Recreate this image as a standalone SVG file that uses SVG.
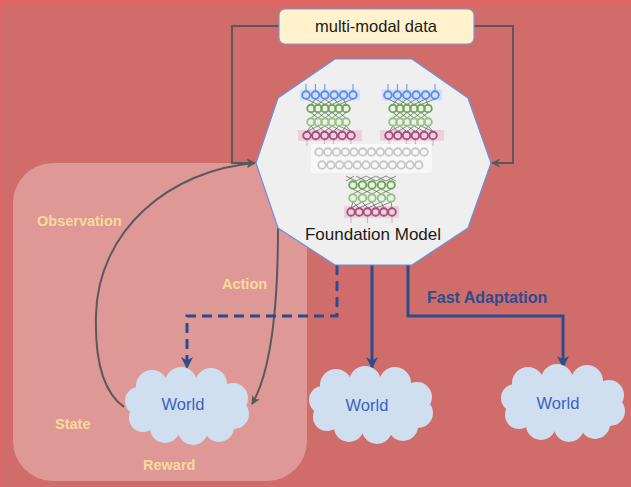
<svg xmlns="http://www.w3.org/2000/svg" xmlns:xlink="http://www.w3.org/1999/xlink" width="631" height="487" viewBox="0 0 631 487">
  <style>
    .lbl { font-family: "Liberation Sans", Arial, sans-serif; font-weight: bold; font-size: 14.5px; fill: #FAD99B; }
    .world { font-family: "Liberation Sans", Arial, sans-serif; font-size: 16.5px; fill: #3D5FC4; text-anchor: middle; }
    .title { font-family: "Liberation Sans", Arial, sans-serif; font-size: 16.5px; fill: #1a1a1a; text-anchor: middle; }
    .gray-link { fill: none; stroke: #595959; stroke-width: 2; }
    .blue-link { fill: none; stroke: #2D4C8E; stroke-width: 3; }
    .cloud { fill: #CFDFF0; }
    .nb { fill: none; stroke: #5B8DEF; stroke-width: 1.9; }
    .ng { fill: none; stroke: #6AA84F; stroke-width: 1.9; }
    .nl { fill: none; stroke: #93C47D; stroke-width: 1.9; }
    .np { fill: none; stroke: #A64D79; stroke-width: 1.9; }
    .ny { fill: none; stroke: #C8C8C8; stroke-width: 1.9; }
    .wire { fill: none; stroke: #444; stroke-width: 0.6; }
    .tick-b { stroke: #5B8DEF; stroke-width: 1; }
    .tick-p { stroke: #D5A6BD; stroke-width: 1; }
  </style>
  <defs>
    <marker id="arrow-blue" viewBox="0 0 12 12" markerWidth="12" markerHeight="12" refX="11" refY="6" orient="auto" markerUnits="userSpaceOnUse">
      <path d="M0,0 L12,6 L0,12 L3.5,6 z" fill="#2D4C8E"/>
    </marker>
    <marker id="arrow-gray" viewBox="0 0 10 10" markerWidth="9" markerHeight="9" refX="9" refY="5" orient="auto" markerUnits="userSpaceOnUse">
      <path d="M0,0 L10,5 L0,10 L3,5 z" fill="#595959"/>
    </marker>
    <!-- cloud silhouette built from overlapping blobs, centred on 0,0 -->
    <g id="cloud-shape" class="cloud">
      <ellipse cx="0" cy="0" rx="52" ry="28"/>
      <circle cx="-35" cy="-20" r="16"/>
      <circle cx="-6" cy="-23" r="16"/>
      <circle cx="24" cy="-22" r="16"/>
      <circle cx="46" cy="-8" r="15"/>
      <circle cx="47" cy="8" r="15"/>
      <circle cx="32" cy="21" r="15"/>
      <circle cx="6" cy="24" r="15"/>
      <circle cx="-22" cy="22" r="15"/>
      <circle cx="-44" cy="12" r="14"/>
      <circle cx="-48" cy="-5" r="14"/>
    </g>
    <!-- encoder-style stack: blue input row, two green hidden rows, purple output row -->
    <g id="net-stack">
      <rect x="-6" y="-5.5" width="60" height="11" rx="1" fill="#C9DAF8" opacity="0.7"/>
      <rect x="-8" y="35" width="64" height="11" rx="1" fill="#EAD1DC"/>
      <line class="tick-b" x1="0" y1="-11" x2="0" y2="-4"/>
      <line class="tick-b" x1="9.4" y1="-11" x2="9.4" y2="-4"/>
      <line class="tick-b" x1="18.8" y1="-11" x2="18.8" y2="-4"/>
      <line class="tick-b" x1="47" y1="-11" x2="47" y2="-4"/>
      <line class="tick-p" x1="1" y1="45" x2="1" y2="51"/>
      <line class="tick-p" x1="18.6" y1="45" x2="18.6" y2="51"/>
      <line class="tick-p" x1="27.4" y1="45" x2="27.4" y2="51"/>
      <line class="tick-p" x1="45" y1="45" x2="45" y2="51"/>
      <path class="wire" d="M0,4 L12,9.5 M9.4,4 L5,9.5 M9.4,4 L19,9.5 M18.8,4 L12,9.5 M18.8,4 L26,9.5 M28.2,4 L19,9.5 M28.2,4 L33,9.5 M37.6,4 L26,9.5 M37.6,4 L40,9.5 M47,4 L33,9.5
                            M5,17.5 L12,23 M12,17.5 L5,23 M12,17.5 L19,23 M19,17.5 L12,23 M19,17.5 L26,23 M26,17.5 L19,23 M26,17.5 L33,23 M33,17.5 L26,23 M33,17.5 L40,23 M40,17.5 L33,23
                            M5,31 L1,36.5 M5,31 L9.8,36.5 M12,31 L1,36.5 M12,31 L18.6,36.5 M19,31 L9.8,36.5 M19,31 L27.4,36.5 M26,31 L18.6,36.5 M26,31 L36.2,36.5 M33,31 L27.4,36.5 M33,31 L45,36.5 M40,31 L36.2,36.5 M40,31 L45,36.5"/>
      <g class="nb">
        <circle cx="0" cy="0" r="3.8"/><circle cx="9.4" cy="0" r="3.8"/><circle cx="18.8" cy="0" r="3.8"/>
        <circle cx="28.2" cy="0" r="3.8"/><circle cx="37.6" cy="0" r="3.8"/><circle cx="47" cy="0" r="3.8"/>
      </g>
      <g class="ng">
        <circle cx="5" cy="13.5" r="3.8"/><circle cx="12" cy="13.5" r="3.8"/><circle cx="19" cy="13.5" r="3.8"/>
        <circle cx="26" cy="13.5" r="3.8"/><circle cx="33" cy="13.5" r="3.8"/><circle cx="40" cy="13.5" r="3.8"/>
      </g>
      <g class="nl">
        <circle cx="5" cy="27" r="3.8"/><circle cx="12" cy="27" r="3.8"/><circle cx="19" cy="27" r="3.8"/>
        <circle cx="26" cy="27" r="3.8"/><circle cx="33" cy="27" r="3.8"/><circle cx="40" cy="27" r="3.8"/>
      </g>
      <g class="np">
        <circle cx="1" cy="40.5" r="3.8"/><circle cx="9.8" cy="40.5" r="3.8"/><circle cx="18.6" cy="40.5" r="3.8"/>
        <circle cx="27.4" cy="40.5" r="3.8"/><circle cx="36.2" cy="40.5" r="3.8"/><circle cx="45" cy="40.5" r="3.8"/>
      </g>
    </g>
  </defs>

  <!-- background -->
  <rect x="0" y="0" width="631" height="487" fill="#E06666"/>
  <rect x="2" y="6" width="629" height="481" fill="#D06D6A"/>

  <!-- interaction loop panel -->
  <g id="loop-panel">
    <rect x="13" y="163" width="294" height="318" rx="40" ry="40" fill="#FFFFFF" fill-opacity="0.3"/>
  </g>

  <!-- connectors -->
  <g id="connectors">
    <path class="gray-link" d="M279,26 H232 V163 H255" marker-end="url(#arrow-gray)"/>
    <path class="gray-link" d="M474,26 H513 V163 H492" marker-end="url(#arrow-gray)"/>
    <path class="gray-link" d="M124,407 C100,390 95,350 96,315 C98,230 170,170 255,163" marker-end="url(#arrow-gray)"/>
    <path class="gray-link" d="M278,228 C278,300 272,370 252,404" marker-end="url(#arrow-gray)"/>
    <path class="blue-link" d="M337,265 V316 H187 V368" stroke-dasharray="10 6" marker-end="url(#arrow-blue)"/>
    <path class="blue-link" d="M372,265 V368" marker-end="url(#arrow-blue)"/>
    <path class="blue-link" d="M408,265 V316 H563 V367" marker-end="url(#arrow-blue)"/>
  </g>

  <!-- data source -->
  <g id="data-node">
    <rect x="279" y="9" width="195" height="35" rx="6" ry="6" fill="#FFF2CC" stroke="#7E96D6" stroke-width="1.2"/>
    <text class="title" x="376" y="32">multi-modal data</text>
  </g>

  <!-- foundation model -->
  <g id="foundation-model">
    <polygon points="335,59 412,59 468,98 491,163 468,228 412,265 335,265 278,228 256,163 278,98" fill="#EFEFEF" stroke="#6D8FDC" stroke-width="1.2"/>
    <use xlink:href="#net-stack" href="#net-stack" transform="translate(306,95)"/>
    <use xlink:href="#net-stack" href="#net-stack" transform="translate(388,95)"/>
    <!-- shared latent rows -->
    <rect x="311" y="144" width="121" height="29" rx="3" fill="#F8F8F8"/>
    <g class="ny">
      <circle cx="319" cy="152" r="3.8"/><circle cx="327.75" cy="152" r="3.8"/><circle cx="336.5" cy="152" r="3.8"/>
      <circle cx="345.25" cy="152" r="3.8"/><circle cx="354" cy="152" r="3.8"/><circle cx="362.75" cy="152" r="3.8"/>
      <circle cx="371.5" cy="152" r="3.8"/><circle cx="380.25" cy="152" r="3.8"/><circle cx="389" cy="152" r="3.8"/>
      <circle cx="397.75" cy="152" r="3.8"/><circle cx="406.5" cy="152" r="3.8"/><circle cx="415.25" cy="152" r="3.8"/>
      <circle cx="424" cy="152" r="3.8"/>
      <circle cx="322" cy="165" r="3.8"/><circle cx="330.8" cy="165" r="3.8"/><circle cx="339.6" cy="165" r="3.8"/>
      <circle cx="348.4" cy="165" r="3.8"/><circle cx="357.2" cy="165" r="3.8"/><circle cx="366" cy="165" r="3.8"/>
      <circle cx="374.8" cy="165" r="3.8"/><circle cx="383.6" cy="165" r="3.8"/><circle cx="392.4" cy="165" r="3.8"/>
      <circle cx="401.2" cy="165" r="3.8"/><circle cx="410" cy="165" r="3.8"/><circle cx="418.8" cy="165" r="3.8"/>
    </g>
    <!-- decoder stack -->
    <rect x="344" y="206" width="55" height="12" rx="1" fill="#EAD1DC"/>
    <path class="wire" d="M346,176 L356,181 M354,176 L346,181 M356,176 L366,181 M366,176 L356,181 M366,176 L376,181 M376,176 L366,181 M376,176 L386,181 M386,176 L376,181 M386,176 L396,181 M396,176 L386,181
                          M353,189 L362,194 M362,189 L353,194 M362,189 L372,194 M372,189 L362,194 M372,189 L381,194 M381,189 L372,194 M381,189 L391,194 M391,189 L381,194
                          M353,202 L351,208 M353,202 L359,208 M362,202 L351,208 M362,202 L368,208 M372,202 L359,208 M372,202 L376,208 M381,202 L368,208 M381,202 L384,208 M391,202 L376,208 M391,202 L392,208"/>
    <g class="ng">
      <circle cx="353" cy="185" r="3.8"/><circle cx="362.5" cy="185" r="3.8"/><circle cx="372" cy="185" r="3.8"/>
      <circle cx="381.5" cy="185" r="3.8"/><circle cx="391" cy="185" r="3.8"/>
    </g>
    <g class="nl">
      <circle cx="353" cy="198" r="3.8"/><circle cx="362.5" cy="198" r="3.8"/><circle cx="372" cy="198" r="3.8"/>
      <circle cx="381.5" cy="198" r="3.8"/><circle cx="391" cy="198" r="3.8"/>
    </g>
    <g class="np">
      <circle cx="351" cy="212" r="3.8"/><circle cx="359.2" cy="212" r="3.8"/><circle cx="367.4" cy="212" r="3.8"/>
      <circle cx="375.6" cy="212" r="3.8"/><circle cx="383.8" cy="212" r="3.8"/><circle cx="392" cy="212" r="3.8"/>
    </g>
    <line class="tick-p" x1="351" y1="217" x2="351" y2="223"/>
    <line class="tick-p" x1="367.4" y1="217" x2="367.4" y2="223"/>
    <line class="tick-p" x1="392" y1="217" x2="392" y2="223"/>
    <text class="title" x="373" y="240" style="font-size:17px">Foundation Model</text>
  </g>

  <!-- environments -->
  <g id="world-loop">
    <use xlink:href="#cloud-shape" href="#cloud-shape" transform="translate(187,406)"/>
    <text class="world" x="183" y="410">World</text>
  </g>
  <g id="world-zero-shot">
    <use xlink:href="#cloud-shape" href="#cloud-shape" transform="translate(371,405)"/>
    <text class="world" x="367" y="411">World</text>
  </g>
  <g id="world-adapted">
    <use xlink:href="#cloud-shape" href="#cloud-shape" transform="translate(563,403)"/>
    <text class="world" x="558" y="409">World</text>
  </g>

  <!-- labels -->
  <g id="labels">
    <text class="lbl" x="37" y="226">Observation</text>
    <text class="lbl" x="222" y="289">Action</text>
    <text class="lbl" x="55" y="429">State</text>
    <text class="lbl" x="143" y="470">Reward</text>
    <text x="427" y="303" style="font-family:'Liberation Sans', Arial, sans-serif; font-weight:bold; font-size:16px; fill:#2D4C8E">Fast Adaptation</text>
  </g>
</svg>
